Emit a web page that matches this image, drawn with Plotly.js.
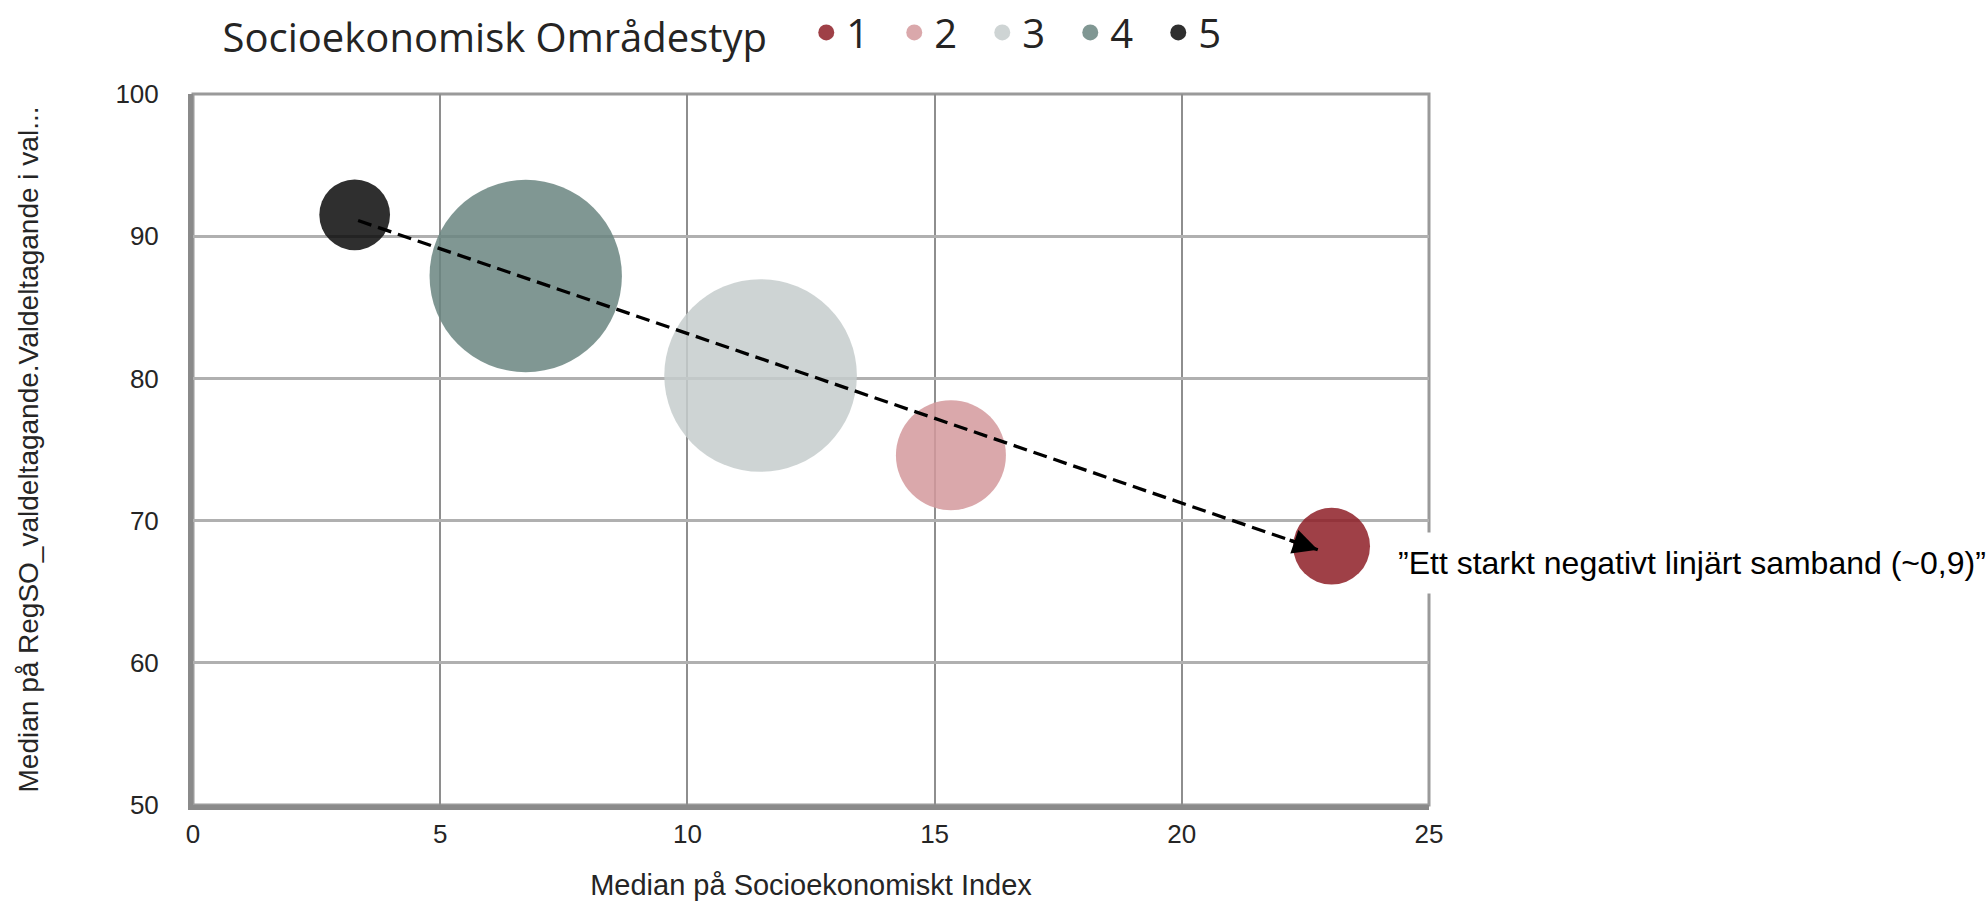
<!DOCTYPE html>
<html>
<head>
<meta charset="utf-8">
<script src="https://cdn.plot.ly/plotly-3.0.1.min.js"></script>
<style>html,body{margin:0;padding:0;background:#fff;}#chart{width:1987px;height:901px;}</style>
</head>
<body>
<div id="chart"></div>
<script>
// ---- data ----
const areaTypes = ['1', '2', '3', '4', '5'];
const socioIndex = [23.03, 15.33, 11.48, 6.73, 3.27];      // Median på Socioekonomiskt Index
const turnout = [68.2, 74.6, 80.2, 87.2, 91.5];             // Median valdeltagande
const bubbleSize = [59, 121, 371, 370, 50];                 // relative bubble size (area)
const typeColors = ['#8E1F27', '#D4999C', '#C5CDCD', '#6A8580', '#0A0A0A'];
const xTicks = [0, 5, 10, 15, 20, 25];
const yTicks = [50, 60, 70, 80, 90, 100];
const trendStart = [3.34, 91.1];
const trendEnd = [22.75, 67.95];
const trendText = '\u201DEtt starkt negativt linjärt samband (~0,9)\u201D';

const traces = areaTypes.map((t, i) => ({
  type: 'scatter',
  mode: 'markers',
  name: t,
  x: [socioIndex[i]],
  y: [turnout[i]],
  marker: {
    size: [bubbleSize[i]],
    sizemode: 'area',
    sizeref: 0.02,
    color: typeColors[i],
    opacity: 0.85,
    line: {width: 0}
  },
  hoverinfo: 'x+y+name'
}));

const fontFam = '"Liberation Sans", Arial, sans-serif';

const layout = {
  width: 1987,
  height: 901,
  margin: {l: 193, r: 558, t: 94, b: 96, autoexpand: false},
  paper_bgcolor: '#ffffff',
  plot_bgcolor: '#ffffff',
  font: {family: fontFam, size: 26, color: '#252525'},
  showlegend: true,
  legend: {
    orientation: 'h',
    xref: 'container', yref: 'container',
    x: 0.111, xanchor: 'left',
    y: 0.964, yanchor: 'middle',
    itemsizing: 'trace',
    entrywidth: 43,
    font: {family: '"Open Sans", sans-serif', size: 40, color: '#252423'},
    title: {text: 'Socioekonomisk Områdestyp\u00a0\u00a0\u00a0', side: 'left', font: {family: '"Open Sans", sans-serif', size: 40, color: '#252423'}},
    bgcolor: 'rgba(0,0,0,0)'
  },
  xaxis: {
    range: [0, 25],
    tickvals: xTicks,
    ticktext: xTicks.map(String),
    showgrid: true,
    gridcolor: '#8e8e8e',
    gridwidth: 1.5,
    zeroline: false,
    showline: true,
    linecolor: '#8a8a8a',
    linewidth: 5,
    ticks: '',
    ticklabelstandoff: 2,
    tickfont: {size: 26, color: '#252525'},
    automargin: false,
    title: {text: 'Median på Socioekonomiskt Index', font: {size: 29, color: '#252525'}, standoff: 28}
  },
  yaxis: {
    range: [50, 100],
    tickvals: yTicks,
    ticktext: yTicks.map(String),
    showgrid: true,
    gridcolor: '#b0b0b0',
    gridwidth: 2.5,
    zeroline: false,
    showline: true,
    linecolor: '#8a8a8a',
    linewidth: 5,
    ticks: '',
    ticklabelstandoff: 24,
    tickfont: {size: 26, color: '#252525'},
    automargin: false,
    title: {text: 'Median på RegSO_valdeltagande.Valdeltagande i val...\u00a0\u00a0\u00a0', font: {size: 28, color: '#252525'}, standoff: 70}
  },
  shapes: [
    {type: 'rect', xref: 'paper', yref: 'paper', x0: 0, x1: 1, y0: 0, y1: 1,
     line: {color: '#9a9a9a', width: 3}, fillcolor: 'rgba(0,0,0,0)', layer: 'below'},
    {type: 'line', xref: 'x', yref: 'y',
     x0: trendStart[0], y0: trendStart[1], x1: trendEnd[0], y1: trendEnd[1],
     line: {color: '#000000', width: 3.3, dash: '14px,7px'}, layer: 'above'}
  ],
  annotations: [
    {xref: 'x', yref: 'y', axref: 'x', ayref: 'y',
     x: trendEnd[0], y: trendEnd[1],
     ax: trendEnd[0] - 0.6, ay: trendEnd[1] + 0.6 * (trendStart[1] - trendEnd[1]) / (trendEnd[0] - trendStart[0]),
     text: '', showarrow: true, arrowhead: 2, arrowsize: 1.5, arrowwidth: 3.3, arrowcolor: '#000000', standoff: 0},
    {xref: 'paper', yref: 'paper', x: 0.9644, y: 0.3408, xanchor: 'left', yanchor: 'middle',
     text: trendText, showarrow: false, bgcolor: '#ffffff', borderpad: 12,
     font: {family: fontFam, size: 32, color: '#000000'}}
  ]
};

Plotly.newPlot('chart', traces, layout, {displayModeBar: false, responsive: false});
</script>
</body>
</html>
